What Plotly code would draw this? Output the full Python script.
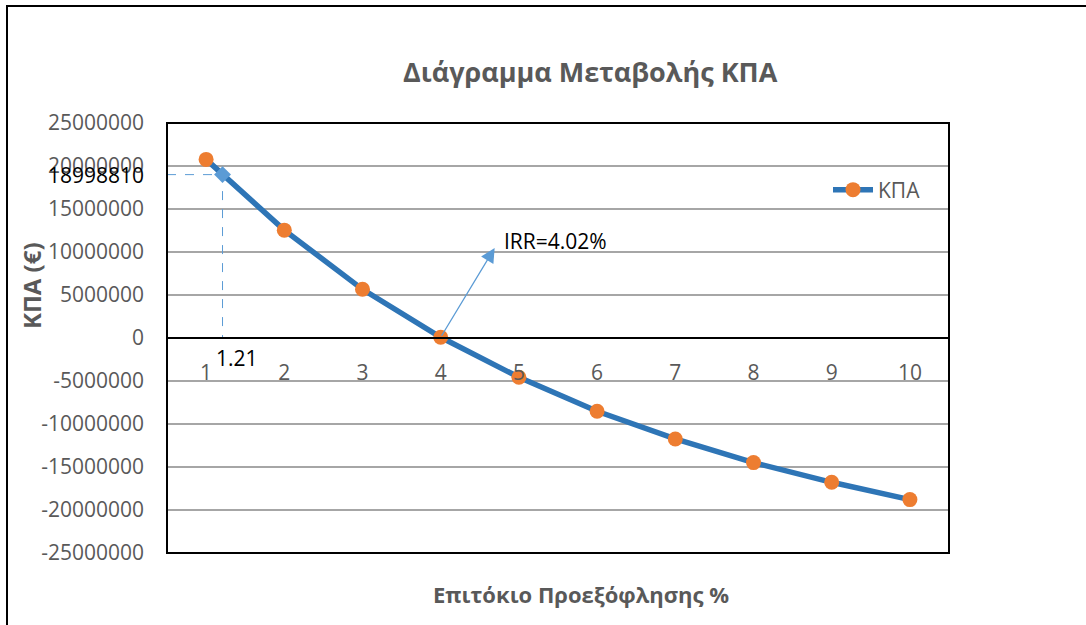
import plotly.graph_objects as go

# Discount rate (%) and net present value (€)
rates = [1, 2, 3, 4, 5, 6, 7, 8, 9, 10]
npv = [20770000, 12540000, 5660000, 90000, -4570000, -8520000,
       -11740000, -14490000, -16780000, -18790000]

# Highlighted point on the curve
mark_rate = 1.21
mark_npv = 18998810

# IRR label and arrow tip
irr_label = "IRR=4.02%"
irr_tip = (4.69, 10470000)

y_ticks = [25000000, 20000000, 15000000, 10000000, 5000000, 0,
           -5000000, -10000000, -15000000, -20000000, -25000000]
y_tick_text = [str(v) for v in y_ticks]

GRAY = "#595959"
FONT = "Open Sans"
W, H = 1086, 625
L, R, T, B = 167, 137, 123, 72
PW, PH = W - L - R, H - T - B


def px_x(p):
    return (p - L) / PW


def px_y(p):
    return (H - B - p) / PH


fig = go.Figure()

# dashed guides to the highlighted point
fig.add_trace(go.Scatter(
    x=[0.5, mark_rate, mark_rate], y=[mark_npv, mark_npv, 0],
    mode="lines", line=dict(color="#5b9bd5", width=1, dash="dash"),
    showlegend=False, hoverinfo="skip"))

fig.add_trace(go.Scatter(
    x=rates, y=npv, name="ΚΠΑ", mode="lines+markers",
    line=dict(color="#2e75b6", width=5.5),
    marker=dict(color="#ed7d31", size=15)))

fig.add_trace(go.Scatter(
    x=[mark_rate], y=[mark_npv], mode="markers",
    marker=dict(symbol="diamond", color="#5b9bd5", size=13),
    showlegend=False, hoverinfo="skip"))

fig.update_layout(
    width=W, height=H,
    margin=dict(l=L, r=R, t=T, b=B),
    paper_bgcolor="white", plot_bgcolor="white",
    font=dict(family=FONT, size=21, color=GRAY),
    xaxis=dict(range=[0.5, 10.5], tickvals=rates, ticktext=[str(r) for r in rates],
               anchor="free", position=0.5, showline=True, linecolor="black",
               linewidth=2, showgrid=False, zeroline=False, ticks="",
               ticklabelstandoff=16, layer="above traces",
               tickfont=dict(family=FONT, size=21, color=GRAY)),
    yaxis=dict(range=[-25000000, 25000000], tickvals=y_ticks, ticktext=y_tick_text,
               showgrid=True, gridcolor="#a6a6a6", gridwidth=1.5, zeroline=False,
               showline=False, ticks="", ticklabelstandoff=22,
               tickfont=dict(family=FONT, size=21, color=GRAY)),
    legend=dict(x=px_x(828), y=px_y(190), xanchor="left", yanchor="middle",
                bgcolor="rgba(0,0,0,0)", font=dict(family=FONT, size=21, color=GRAY),
                itemwidth=40),
    showlegend=True,
)

shapes = [
    # plot area frame
    dict(type="rect", xref="paper", yref="paper", x0=0, x1=1, y0=0, y1=1,
         line=dict(color="black", width=2), layer="above"),
    # chart frame
    dict(type="rect", xref="paper", yref="paper", x0=px_x(7), x1=px_x(1110),
         y0=px_y(650), y1=px_y(6), line=dict(color="black", width=2)),
]
fig.update_layout(shapes=shapes)

annotations = [
    dict(text="<b>Διάγραμμα Μεταβολής ΚΠΑ</b>", xref="paper", yref="paper",
         x=px_x(590), y=px_y(72), xanchor="center", yanchor="middle",
         showarrow=False, font=dict(family=FONT, size=27, color=GRAY)),
    dict(text="<b>ΚΠΑ (€)</b>", xref="paper", yref="paper", textangle=-90,
         x=px_x(31), y=px_y(286), xanchor="center", yanchor="middle",
         showarrow=False, font=dict(family=FONT, size=24, color=GRAY)),
    dict(text="<b>Επιτόκιο Προεξόφλησης %</b>", xref="paper", yref="paper",
         x=px_x(581), y=px_y(594), xanchor="center", yanchor="middle",
         showarrow=False, font=dict(family=FONT, size=22, color=GRAY)),
    # arrow from the IRR point up to its label
    dict(text="", x=irr_tip[0], y=irr_tip[1], xref="x", yref="y",
         ax=4, ay=npv[3], axref="x", ayref="y", showarrow=True,
         arrowhead=2, arrowsize=2.2, arrowwidth=1.3, arrowcolor="#5b9bd5"),
    dict(text=irr_label, x=irr_tip[0], y=irr_tip[1], xref="x", yref="y",
         xanchor="left", yanchor="middle", xshift=7, yshift=7, showarrow=False,
         font=dict(family=FONT, size=21, color="black")),
    dict(text=str(mark_npv), xref="paper", yref="y", x=px_x(146), y=mark_npv,
         xanchor="right", yanchor="middle", showarrow=False,
         font=dict(family=FONT, size=21, color="black")),
    dict(text=f"{mark_rate:.2f}", xref="x", yref="y", x=mark_rate, y=0,
         xanchor="left", yanchor="top", xshift=-9, yshift=-4, showarrow=False,
         font=dict(family=FONT, size=21, color="black")),
]
fig.update_layout(annotations=annotations)

fig.write_html("out.html")
